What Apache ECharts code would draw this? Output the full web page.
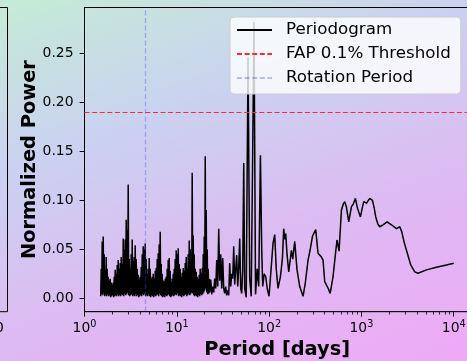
<!DOCTYPE html>
<html>
<head>
<meta charset="utf-8">
<script src="https://cdn.jsdelivr.net/npm/echarts@6/dist/echarts.min.js"></script>
<style>
  html, body { margin: 0; padding: 0; }
  #chart {
    width: 467px; height: 361px;
    background: linear-gradient(160deg, #c4ecd6 0%, #cad2f0 32%, #dcbcf2 62%, #efa9f7 100%);
  }
</style>
</head>
<body>
<div id="chart"></div>
<script>
// Lomb-Scargle periodogram: period in days and normalized power
const periodDays = [
  1.498, 1.517, 1.536, 1.555, 1.575, 1.595, 1.614, 1.634, 1.655, 1.676,
  1.697, 1.718, 1.740, 1.762, 1.784, 1.806, 1.829, 1.852, 1.875, 1.899,
  1.922, 1.946, 1.971, 1.996, 2.021, 2.046, 2.072, 2.098, 2.125, 2.152,
  2.178, 2.205, 2.234, 2.262, 2.290, 2.319, 2.348, 2.377, 2.407, 2.437,
  2.467, 2.498, 2.529, 2.561, 2.594, 2.627, 2.659, 2.692, 2.726, 2.760,
  2.795, 2.830, 2.866, 2.902, 2.938, 2.975, 3.013, 3.051, 3.088, 3.127,
  3.166, 3.206, 3.246, 3.287, 3.328, 3.370, 3.412, 3.455, 3.499, 3.543,
  3.587, 3.632, 3.677, 3.723, 3.771, 3.818, 3.866, 3.915, 3.963, 4.013,
  4.064, 4.115, 4.166, 4.218, 4.272, 4.326, 4.379, 4.434, 4.490, 4.546,
  4.604, 4.662, 4.720, 4.779, 4.839, 4.900, 4.962, 5.024, 5.087, 5.151,
  5.215, 5.280, 5.347, 5.414, 5.482, 5.551, 5.620, 5.691, 5.763, 5.835,
  5.907, 5.981, 6.057, 6.133, 6.210, 6.288, 6.366, 6.446, 6.527, 6.609,
  6.692, 6.776, 6.861, 6.947, 7.034, 7.122, 7.212, 7.303, 7.394, 7.487,
  7.580, 7.675, 7.774, 7.872, 7.970, 8.070, 8.171, 8.274, 8.378, 8.483,
  8.589, 8.697, 8.805, 8.915, 9.028, 9.141, 9.256, 9.372, 9.489, 9.608,
  9.730, 9.852, 9.975, 10.10, 10.23, 10.36, 10.49, 10.62, 10.75, 10.88,
  11.02, 11.16, 11.30, 11.44, 11.59, 11.74, 11.88, 12.03, 12.18, 12.33,
  12.49, 12.65, 12.80, 12.96, 13.13, 13.29, 13.46, 13.63, 13.80, 13.97,
  14.14, 14.32, 14.50, 14.68, 14.87, 15.06, 15.25, 15.44, 15.63, 15.83,
  16.03, 16.23, 16.43, 16.64, 16.85, 17.06, 17.28, 17.50, 17.71, 17.93,
  18.16, 18.39, 18.62, 18.85, 19.09, 19.33, 19.57, 19.82, 20.07, 20.32,
  20.57, 20.83, 21.09, 21.35, 21.62, 21.89, 22.17, 22.45, 22.73,
  23.31, 23.89, 24.50, 25.11, 25.75, 26.40, 27.06, 27.75, 28.45, 29.17,
  29.90, 30.65, 31.43, 32.22, 33.03, 33.87, 34.72, 35.60, 36.50, 37.42,
  38.37, 39.34, 40.33, 41.35, 42.39, 43.46, 44.56, 45.68, 46.84, 48.02,
  49.23, 50.47, 51.76, 53.07, 54.40, 56.48, 59.09, 61.64, 63.97, 68.60,
  71.24, 74.32, 77.14, 80.48, 83.14, 85.23,
  88.5, 91.88, 95.4, 99.75, 104.1, 110.2, 115.0, 119.4, 124.9, 132.6,
  139.4, 143.9, 147.6, 151.3, 156.3, 163.1, 174.4, 180.2, 189.4, 200.6,
  214.6, 233.0, 246.1, 264.0, 278.9, 294.5, 304.2, 319.8, 338.7, 353.4,
  368.7, 383.7, 400.3, 417.6, 436.9, 459.0, 492.5, 526.8, 544.2, 572.0,
  607.3, 635.0, 659.4, 688.0, 728.6, 779.4, 815.2, 861.0, 905.0, 975.4,
  1020, 1059, 1133, 1185, 1230, 1316, 1376, 1429, 1502, 1579,
  1714, 1894, 2114, 2394, 2600, 2733, 2823, 2945, 3074, 3421,
  3781, 4105, 5061, 6495, 8335, 10000
];
const power = [
  0.002, 0.030, 0.004, 0.058, 0.003, 0.063, 0.005, 0.045, 0.002, 0.029,
  0.003, 0.042, 0.002, 0.030, 0.004, 0.022, 0.002, 0.018, 0.003, 0.020,
  0.001, 0.016, 0.002, 0.014, 0.003, 0.016, 0.001, 0.022, 0.002, 0.029,
  0.003, 0.025, 0.002, 0.034, 0.004, 0.039, 0.002, 0.030, 0.003, 0.036,
  0.002, 0.042, 0.004, 0.035, 0.003, 0.061, 0.002, 0.050, 0.005, 0.060,
  0.003, 0.080, 0.004, 0.070, 0.006, 0.116, 0.003, 0.040, 0.002, 0.030,
  0.003, 0.045, 0.004, 0.060, 0.002, 0.038, 0.003, 0.042, 0.002, 0.054,
  0.004, 0.040, 0.002, 0.030, 0.003, 0.024, 0.001, 0.020, 0.002, 0.022,
  0.003, 0.032, 0.002, 0.045, 0.004, 0.053, 0.003, 0.050, 0.005, 0.056,
  0.002, 0.040, 0.003, 0.025, 0.002, 0.030, 0.004, 0.041, 0.002, 0.030,
  0.001, 0.020, 0.003, 0.022, 0.002, 0.025, 0.001, 0.020, 0.003, 0.028,
  0.002, 0.031, 0.003, 0.040, 0.004, 0.046, 0.002, 0.055, 0.005, 0.068,
  0.003, 0.035, 0.002, 0.025, 0.001, 0.018, 0.002, 0.017, 0.001, 0.020,
  0.003, 0.022, 0.002, 0.030, 0.003, 0.039, 0.004, 0.041, 0.002, 0.028,
  0.001, 0.017, 0.002, 0.020, 0.003, 0.025, 0.002, 0.030, 0.003, 0.040,
  0.004, 0.049, 0.003, 0.045, 0.005, 0.051, 0.002, 0.035, 0.003, 0.030,
  0.002, 0.022, 0.001, 0.026, 0.003, 0.031, 0.002, 0.028, 0.003, 0.036,
  0.004, 0.042, 0.002, 0.030, 0.003, 0.045, 0.005, 0.059, 0.003, 0.050,
  0.004, 0.040, 0.006, 0.128, 0.005, 0.064, 0.003, 0.045, 0.002, 0.030,
  0.003, 0.027, 0.002, 0.022, 0.001, 0.020, 0.003, 0.024, 0.002, 0.030,
  0.004, 0.026, 0.003, 0.031, 0.004, 0.045, 0.006, 0.063, 0.008, 0.145,
  0.010, 0.090, 0.006, 0.050, 0.004, 0.030, 0.005, 0.020, 0.006,
  0.019, 0.004, 0.012, 0.006, 0.020, 0.010, 0.039, 0.012, 0.071, 0.018,
  0.045, 0.010, 0.041, 0.010, 0.005, 0.012, 0.003, 0.008, 0.003, 0.036,
  0.012, 0.025, 0.020, 0.053, 0.014, 0.030, 0.044, 0.012, 0.030, 0.061,
  0.010, 0.005, 0.030, 0.138, 0.010, 0.001, 0.246, 0.020, 0.002, 0.282,
  0.004, 0.030, 0.012, 0.146, 0.050, 0.012,
  0.025, 0.022, 0.010, 0.002, 0.025, 0.056, 0.065, 0.030, 0.010, 0.022,
  0.041, 0.071, 0.060, 0.066, 0.045, 0.027, 0.049, 0.040, 0.058, 0.029,
  0.012, 0.002, 0.015, 0.039, 0.050, 0.063, 0.066, 0.070, 0.046, 0.044,
  0.042, 0.039, 0.017, 0.019, 0.010, 0.005, 0.022, 0.048, 0.0595, 0.048,
  0.090, 0.096, 0.0986, 0.093, 0.078, 0.0935, 0.096, 0.102, 0.092, 0.083,
  0.092, 0.0986, 0.097, 0.098, 0.102, 0.100, 0.092, 0.083, 0.076, 0.073,
  0.075, 0.078, 0.075, 0.071, 0.073, 0.068, 0.062, 0.055, 0.049, 0.034,
  0.027, 0.0255, 0.029, 0.0316, 0.034, 0.0357
];

// False-alarm-probability level and stellar rotation period
const fapThreshold = 0.188;
const rotationPeriod = 4.57;

// Axis ticks
const yTickValues = [0, 0.05, 0.10, 0.15, 0.20, 0.25];
const xMinorTickValues = [
  2, 3, 4, 5, 6, 7, 8, 9,
  20, 30, 40, 50, 60, 70, 80, 90,
  200, 300, 400, 500, 600, 700, 800, 900,
  2000, 3000, 4000, 5000, 6000, 7000, 8000, 9000
];

const FONT = 'DejaVu Sans';
const X_MIN = 1, X_MAX = 15000;

const chart = echarts.init(document.getElementById('chart'), null, { renderer: 'canvas' });

chart.setOption({
  animation: false,
  backgroundColor: 'transparent',
  textStyle: { fontFamily: FONT },
  grid: {
    left: 84.5, top: 7.5, width: 385.5, height: 304.2,
    outerBoundsMode: 'none', containLabel: false,
    show: true, borderColor: '#000', borderWidth: 1,
    backgroundColor: 'transparent'
  },
  legend: {
    left: 230, top: 17,
    orient: 'vertical',
    padding: [3, 10, 6, 6],
    itemWidth: 35, itemHeight: 14, itemGap: 4,
    backgroundColor: 'rgba(255,255,255,0.8)',
    borderColor: '#cccccc', borderWidth: 1, borderRadius: 4,
    selectedMode: false,
    itemStyle: { opacity: 0 },
    textStyle: { fontFamily: FONT, fontSize: 16.7, color: '#000', lineHeight: 20, padding: [0, 0, 0, 9] },
    data: ['Periodogram', 'FAP 0.1% Threshold', 'Rotation Period']
  },
  xAxis: [
    {
      type: 'log', logBase: 10, min: X_MIN, max: X_MAX, position: 'bottom',
      name: 'Period [days]', nameLocation: 'middle', nameGap: 29, nameMoveOverlap: false,
      nameTextStyle: { fontFamily: FONT, fontSize: 19.4, fontWeight: 'bold', color: '#000' },
      axisLine: { show: true, onZero: false, lineStyle: { color: '#000', width: 1 } },
      axisTick: { show: true, inside: false, length: 4.9, lineStyle: { color: '#000', width: 1 } },
      axisLabel: {
        show: true, margin: 8, color: '#000', showMaxLabel: false, hideOverlap: false,
        formatter: function (v) {
          const e = Math.log10(v);
          if (Math.abs(e - Math.round(e)) > 1e-6) return '';
          return '{b|10}{s|' + Math.round(e) + '}';
        },
        rich: {
          b: { fontFamily: FONT, fontSize: 13.9, color: '#000' },
          s: { fontFamily: FONT, fontSize: 9.7, color: '#000', padding: [0, 0, 7, 0] }
        }
      },
      splitLine: { show: false }
    },
    {
      // minor ticks of the log axis, placed in decade units
      type: 'value', min: 0, max: Math.log10(X_MAX), position: 'bottom',
      axisLine: { show: false, onZero: false },
      axisLabel: { show: false },
      axisTick: { show: true, inside: false, length: 2.8, customValues: xMinorTickValues.map(Math.log10), lineStyle: { color: '#000', width: 0.8 } },
      splitLine: { show: false }
    }
  ],
  yAxis: {
    type: 'value', min: -0.0137, max: 0.2967,
    name: 'Normalized Power', nameLocation: 'middle', nameGap: 45, nameMoveOverlap: false,
    nameTextStyle: { fontFamily: FONT, fontSize: 19.4, fontWeight: 'bold', color: '#000' },
    axisLine: { show: true, onZero: false, lineStyle: { color: '#000', width: 1 } },
    axisTick: { show: true, inside: false, length: 4.9, customValues: yTickValues, lineStyle: { color: '#000', width: 1 } },
    axisLabel: {
      show: true, margin: 11, color: '#000', fontFamily: FONT, fontSize: 13.9,
      customValues: yTickValues,
      formatter: function (v) { return v.toFixed(2); }
    },
    splitLine: { show: false }
  },
  series: [
    {
      name: 'Periodogram', type: 'line', xAxisIndex: 0,
      data: periodDays.map(function (p, i) { return [p, power[i]]; }),
      symbol: 'none', clip: true,
      lineStyle: { color: '#000', width: 1.5 },
      itemStyle: { color: '#000' },
      emphasis: { disabled: true }
    },
    {
      name: 'FAP 0.1% Threshold', type: 'line', xAxisIndex: 0, data: [],
      symbol: 'none',
      lineStyle: { color: '#ff2a2a', width: 1.2, type: [5, 2.6] },
      itemStyle: { color: '#ff2a2a' },
      markLine: {
        silent: true, symbol: 'none', label: { show: false },
        lineStyle: { color: '#ff2a2a', width: 1.2, type: [5, 2.6] },
        emphasis: { disabled: true },
        data: [{ yAxis: fapThreshold }]
      }
    },
    {
      name: 'Rotation Period', type: 'line', xAxisIndex: 0, data: [],
      symbol: 'none',
      lineStyle: { color: 'rgba(70,70,255,0.35)', width: 1.3, type: [5, 2.6] },
      itemStyle: { color: 'rgba(70,70,255,0.35)' },
      markLine: {
        silent: true, symbol: 'none', label: { show: false },
        lineStyle: { color: 'rgba(70,70,255,0.35)', width: 1.3, type: [5, 2.6] },
        emphasis: { disabled: true },
        data: [{ xAxis: rotationPeriod }]
      }
    }
  ],
  graphic: [
    // frame of the neighbouring panel, cut by the left edge
    {
      type: 'rect', silent: true,
      shape: { x: -60, y: 7.5, width: 67.5, height: 304.2 },
      style: { fill: 'none', stroke: '#000', lineWidth: 1 }
    },
    {
      type: 'text', silent: true, x: -5, y: 321,
      style: { text: '0', fontFamily: FONT, fontSize: 13.9, fill: '#000' }
    }
  ]
});
</script>
</body>
</html>
